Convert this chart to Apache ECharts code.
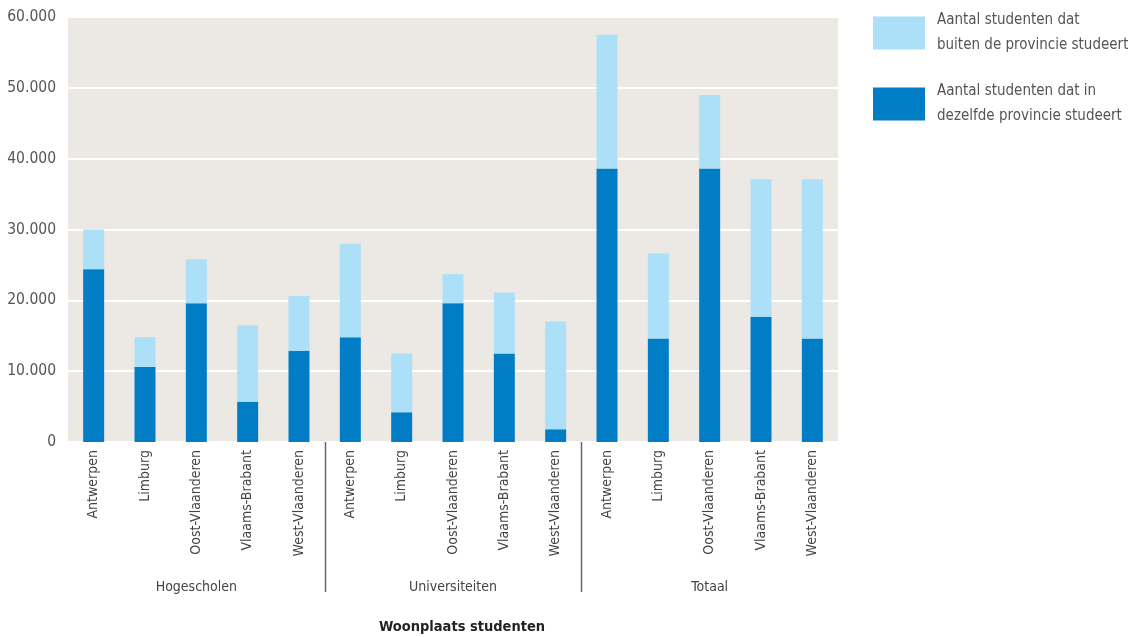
<!DOCTYPE html>
<html>
<head>
<meta charset="utf-8">
<script src="https://cdn.jsdelivr.net/npm/echarts@6/dist/echarts.min.js"></script>
<style>
html,body{margin:0;padding:0;background:#fff;}
#c{width:1128px;height:637px;}
</style>
</head>
<body>
<div id="c"></div>
<script>
var categories = ['Antwerpen','Limburg','Oost-Vlaanderen','Vlaams-Brabant','West-Vlaanderen',
                  'Antwerpen','Limburg','Oost-Vlaanderen','Vlaams-Brabant','West-Vlaanderen',
                  'Antwerpen','Limburg','Oost-Vlaanderen','Vlaams-Brabant','West-Vlaanderen'];
var groups = ['Hogescholen','Universiteiten','Totaal'];
var sameProvince = [24400,10600,19600,5700,12900, 14800,4200,19600,12500,1800, 38600,14600,38600,17700,14600];
var totals       = [30000,14800,25800,16500,20600, 28000,12500,23700,21100,17000, 57500,26600,49000,37100,37100];
var outsideProvince = totals.map(function(t,i){ return t - sameProvince[i]; });
var yTicks = [0,10000,20000,30000,40000,50000,60000];
var nameSame = 'Aantal studenten dat in\ndezelfde provincie studeert';
var nameOut = 'Aantal studenten dat\nbuiten de provincie studeert';
var xTitle = 'Woonplaats studenten';

var FONT = '"Liberation Sans Narrow","DejaVu Sans Condensed","Roboto",sans-serif';
var chart = echarts.init(document.getElementById('c'), null, {renderer:'canvas'});
var option = {
  animation:false,
  textStyle:{fontFamily:FONT},
  grid:{left:68, right:290, top:17, bottom:195, show:true, backgroundColor:'#ECE9E4', borderWidth:0,
        containLabel:false, outerBoundsMode:'none'},
  legend:{
    orient:'vertical', left:873, top:8, padding:0, itemWidth:52, itemHeight:33, itemGap:21,
    icon:'rect',
    data:[nameOut, nameSame],
    textStyle:{fontFamily:FONT, fontSize:15, color:'#555', lineHeight:25, padding:[0,0,0,7]}
  },
  xAxis:[{
    type:'category', data:categories, position:'bottom',
    axisLine:{show:false}, axisTick:{show:false},
    axisLabel:{rotate:90, interval:0, margin:8, fontFamily:FONT, fontSize:14, color:'#444'}
  },{
    type:'category', data:groups, position:'bottom', offset:138,
    axisLine:{show:false}, axisTick:{show:false},
    axisLabel:{interval:0, margin:0, fontFamily:FONT, fontSize:14, color:'#444', verticalAlign:'top'},
    name:xTitle, nameLocation:'middle', nameGap:40,
    nameTextStyle:{fontFamily:FONT, fontSize:14.5, fontWeight:'bold', color:'#222', padding:[0,0,0,18]}
  }],
  yAxis:{
    type:'value', min:yTicks[0], max:yTicks[yTicks.length-1], interval:10000,
    axisLine:{show:false}, axisTick:{show:false},
    splitLine:{show:true, lineStyle:{color:'#fff', width:2}},
    axisLabel:{margin:12, fontFamily:FONT, fontSize:15.5, color:'#555',
      formatter:function(v){ return v===0?'0':String(v).replace(/\B(?=(\d{3})+(?!\d))/g,'.'); }}
  },
  series:[{
    name:nameSame, type:'bar', stack:'s', xAxisIndex:0, data:sameProvince, barWidth:21,
    itemStyle:{color:'#007DC5'}
  },{
    name:nameOut, type:'bar', stack:'s', xAxisIndex:0, data:outsideProvince, barWidth:21,
    itemStyle:{color:'#ACE0F9'}
  }]
};
chart.setOption(option);

function sepX(i){
  var a = chart.convertToPixel({xAxisIndex:0}, i);
  var b = chart.convertToPixel({xAxisIndex:0}, i+1);
  return (a+b)/2;
}
var y0 = chart.convertToPixel({yAxisIndex:0}, 0);
var seps = [4,9].map(function(i){
  var x = Math.round(sepX(i))+0.5;
  return {type:'line', shape:{x1:x, y1:y0, x2:x, y2:y0+150}, style:{stroke:'#666', lineWidth:1.5}, silent:true};
});
chart.setOption({graphic:seps});
</script>
</body>
</html>
